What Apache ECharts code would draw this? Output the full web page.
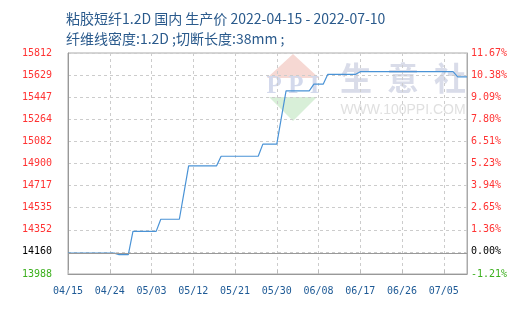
<!DOCTYPE html>
<html>
<head>
<meta charset="utf-8">
<script src="https://cdn.jsdelivr.net/npm/echarts@6/dist/echarts.min.js"></script>
<style>html,body{margin:0;padding:0;background:#fff;}#c{width:525px;height:309px;}</style>
</head>
<body>
<div id="c"></div>
<script>
const titleText = '粘胶短纤1.2D 国内 生产价 2022-04-15 - 2022-07-10';
const subText = '纤维线密度:1.2D ;切断长度:38mm ;';
const dates = [
 '04/15','04/16','04/17','04/18','04/19','04/20','04/21','04/22','04/23','04/24','04/25','04/26','04/27','04/28','04/29','04/30',
 '05/01','05/02','05/03','05/04','05/05','05/06','05/07','05/08','05/09','05/10','05/11','05/12','05/13','05/14','05/15','05/16',
 '05/17','05/18','05/19','05/20','05/21','05/22','05/23','05/24','05/25','05/26','05/27','05/28','05/29','05/30','05/31',
 '06/01','06/02','06/03','06/04','06/05','06/06','06/07','06/08','06/09','06/10','06/11','06/12','06/13','06/14','06/15','06/16',
 '06/17','06/18','06/19','06/20','06/21','06/22','06/23','06/24','06/25','06/26','06/27','06/28','06/29','06/30',
 '07/01','07/02','07/03','07/04','07/05','07/06','07/07','07/08','07/09','07/10'
];
const prices = [
 14160,14160,14160,14160,14160,14160,14160,14160,14160,14160,14160,
 14148,14148,14148,
 14340,14340,14340,14340,14340,14340,
 14440,14440,14440,14440,14440,
 14660,
 14880,14880,14880,14880,14880,14880,14880,
 14960,14960,14960,14960,14960,14960,14960,14960,14960,
 15060,15060,15060,15060,
 15280,
 15500,15500,15500,15500,15500,15500,
 15555,15555,15555,
 15636,15636,15636,15636,15636,15636,15636,
 15658,15658,15658,15658,15658,15658,15658,15658,15658,15658,15658,15658,15658,15658,15658,15658,15658,15658,15658,15658,15658,
 15615,15615,15615
];
const baseValue = 14160;
const yMin = 13988, yMax = 15812, yInterval = 182.4;
const leftTickLabels = ['13988','14160','14352','14535','14717','14900','15082','15264','15447','15629','15812'];
const rightTickLabels = ['-1.21%','0.00%','1.36%','2.65%','3.94%','5.23%','6.51%','7.80%','9.09%','10.38%','11.67%'];

function tickIndex(v){ return Math.round((v - yMin) / yInterval); }
function tickColor(v){ const i = tickIndex(v); return i < 1 ? '#3cb01e' : (i === 1 ? '#000000' : '#ff3333'); }

const chart = echarts.init(document.getElementById('c'));
const monoFont = 'DejaVu Sans Mono';
chart.setOption({
  animation: false,
  grid: { left: 68, right: 58, top: 53, bottom: 35, show: true, borderColor: '#aaaaaa', borderWidth: 1 },
  graphic: [
    { type: 'polygon', silent: true, z: 0, shape: { points: [[267,78],[293,54],[319,78]] }, style: { fill: '#f6d8d3' } },
    { type: 'polygon', silent: true, z: 0, shape: { points: [[269,97],[293,121],[317,97]] }, style: { fill: '#d8efd8' } },
    { type: 'text', silent: true, z: 0, x: 293, y: 87, style: { text: 'P P I', fill: '#d3d9ec', font: 'bold 25px "Liberation Serif"', align: 'center', verticalAlign: 'middle' } },
    { type: 'text', silent: true, z: 0, x: 356, y: 78, style: { text: '生', fill: '#d9dce9', font: 'bold 32px "Noto Sans CJK SC"', align: 'center', verticalAlign: 'middle' } },
    { type: 'text', silent: true, z: 0, x: 403, y: 78, style: { text: '意', fill: '#d9dce9', font: 'bold 32px "Noto Sans CJK SC"', align: 'center', verticalAlign: 'middle' } },
    { type: 'text', silent: true, z: 0, x: 450, y: 78, style: { text: '社', fill: '#d9dce9', font: 'bold 32px "Noto Sans CJK SC"', align: 'center', verticalAlign: 'middle' } },
    { type: 'text', silent: true, z: 0, x: 403, y: 110, style: { text: 'WWW.100PPI.COM', fill: '#e0e0e0', font: '14px "Liberation Sans"', align: 'center', verticalAlign: 'middle' } },
    { type: 'text', silent: true, x: 66, y: 19, style: { text: titleText, fill: '#2a5a8c', font: '14px "Noto Sans CJK SC"', verticalAlign: 'middle' } },
    { type: 'text', silent: true, x: 66, y: 39, style: { text: subText, fill: '#2a5a8c', font: '14px "Noto Sans CJK SC"', verticalAlign: 'middle' } }
  ],
  xAxis: {
    type: 'category', data: dates, boundaryGap: false,
    axisLine: { lineStyle: { color: '#999999', width: 1 } },
    axisTick: { inside: true, length: 4, interval: 8, lineStyle: { color: '#bbbbbb' } },
    axisLabel: { interval: 8, color: '#1e5a96', fontFamily: monoFont, fontSize: 10, margin: 12 },
    splitLine: { show: true, interval: 8, lineStyle: { color: '#cccccc', type: [3,3] } }
  },
  yAxis: [
    {
      type: 'value', min: yMin, max: yMax, interval: yInterval, position: 'left',
      axisLine: { show: true, lineStyle: { color: '#999999' } },
      axisTick: { show: false },
      axisLabel: { margin: 16, fontFamily: monoFont, fontSize: 10,
        formatter: v => leftTickLabels[tickIndex(v)], color: v => tickColor(v) },
      splitLine: { show: true, lineStyle: { color: '#cccccc', type: [3,3] } }
    },
    {
      type: 'value', min: yMin, max: yMax, interval: yInterval, position: 'right',
      axisLine: { show: true, lineStyle: { color: '#aaaaaa' } },
      axisTick: { show: false },
      axisLabel: { margin: 4, fontFamily: monoFont, fontSize: 10,
        formatter: v => rightTickLabels[tickIndex(v)], color: v => tickColor(v) },
      splitLine: { show: false }
    }
  ],
  series: [{
    type: 'line', data: prices, yAxisIndex: 0, symbol: 'none', showSymbol: false,
    lineStyle: { color: '#4a93d6', width: 1.2 }, z: 3,
    markLine: { silent: true, symbol: 'none', label: { show: false },
      lineStyle: { color: '#999999', type: 'solid', width: 1 },
      data: [{ yAxis: baseValue }] }
  }]
});
</script>
</body>
</html>
